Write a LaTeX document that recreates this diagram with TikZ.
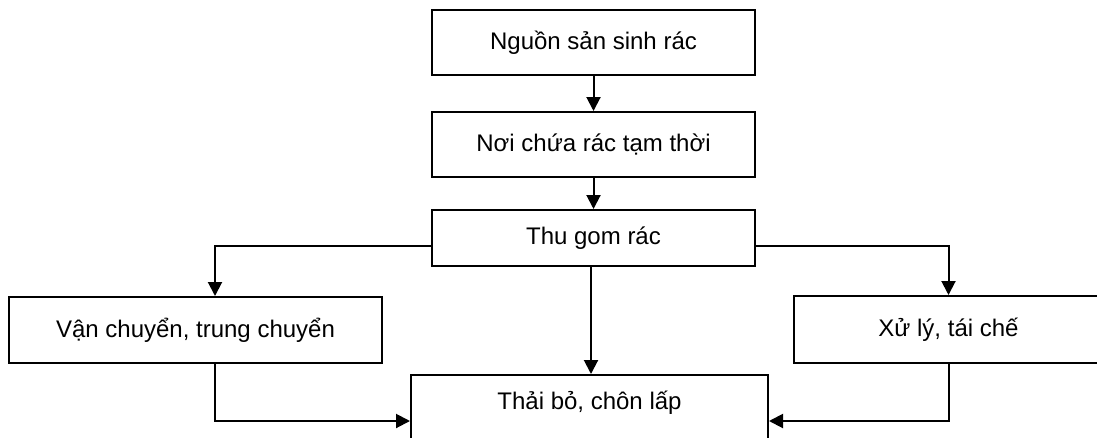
\documentclass[tikz,border=0pt]{standalone}
\usepackage{fontspec}
\setmainfont{Liberation Sans}
\usetikzlibrary{arrows.meta}
\tikzset{
  label text/.style={font=\fontsize{24}{28}\selectfont},
  box/.style={draw, line width=2pt, rectangle, inner sep=0pt, align=center, label text},
  flow/.style={line width=2pt, -{Triangle[length=14pt,width=14pt]}},
}
\begin{document}
\begin{tikzpicture}[x=1pt, y=-1pt]
  \useasboundingbox (0,0) rectangle (1097,437);
  \clip (0,0) rectangle (1097,437);

  % main chain
  \node[box, minimum width=323pt, minimum height=65pt] (source) at (593.5,42.5) {Nguồn sản sinh rác};
  \node[box, minimum width=323pt, minimum height=65pt] (storage) at (593.5,144.5) {Nơi chứa rác tạm thời};
  \node[box, minimum width=323pt, minimum height=56pt] (collect) at (593.5,238) {Thu gom rác};

  % side branches
  \node[box, minimum width=373pt, minimum height=66pt] (transport) at (195.5,330) {Vận chuyển, trung chuyển};
  \node[box, minimum width=309pt, minimum height=67pt] (treat) at (948.5,329.5) {Xử lý, tái chế};

  % final destination, running past the lower edge
  \node[box, minimum width=357pt, minimum height=92pt] (dump) at (589.5,421) {};
  \node[label text, inner sep=0pt] (dumplabel) at (589.5,403) {Thải bỏ, chôn lấp};

  \draw[flow] (source.south) -- (storage.north);
  \draw[flow] (storage.south) -- (collect.north);
  \draw[flow] ([yshift=-8pt]collect.west) -| ([xshift=19.5pt]transport.north);
  \draw[flow] ([yshift=-8pt]collect.east) -| (treat.north);
  \draw[flow] ([xshift=-2.5pt]collect.south) -- ([xshift=-2.5pt]collect.south |- dump.north);
  \draw[flow] ([xshift=19.5pt]transport.south) |- (dump.west);
  \draw[flow] (treat.south) |- (dump.east);
\end{tikzpicture}
\end{document}
